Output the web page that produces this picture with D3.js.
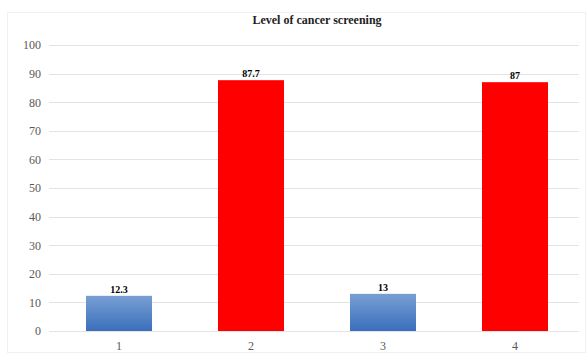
<!DOCTYPE html>
<html>
<head>
<meta charset="utf-8">
<script src="https://cdn.jsdelivr.net/npm/d3@7"></script>
<style>
  body { margin: 0; background: #fff; }
  .axis text { font-family: "Liberation Serif", "DejaVu Serif", serif; font-size: 12px; fill: #595959; }
  .axis path, .axis line { display: none; }
  .grid line { stroke: #e3e3e3; stroke-width: 1; }
</style>
</head>
<body>
<div id="chart"></div>
<script>
var categories = ["1", "2", "3", "4"];
var values = [12.3, 87.7, 13, 87];
var valueLabels = ["12.3", "87.7", "13", "87"];
var yTicks = [0, 10, 20, 30, 40, 50, 60, 70, 80, 90, 100];
var barKinds = ["blue", "red", "blue", "red"];

var W = 588, H = 362;
var margin = {top: 45, right: 7, bottom: 31, left: 53};
var width = W - margin.left - margin.right,
    height = H - margin.top - margin.bottom;

var svg = d3.select("#chart").append("svg")
    .attr("width", W)
    .attr("height", H);

// faint chart border
svg.append("rect")
    .attr("x", 7.5).attr("y", 12.5)
    .attr("width", 578).attr("height", 340)
    .attr("fill", "none")
    .attr("stroke", "#f0f0f0");

var defs = svg.append("defs");
var grad = defs.append("linearGradient")
    .attr("id", "blueGrad")
    .attr("x1", 0).attr("y1", 0).attr("x2", 0).attr("y2", 1);
grad.append("stop").attr("offset", "0%").attr("stop-color", "#789fd3");
grad.append("stop").attr("offset", "100%").attr("stop-color", "#3a6fbc");

var g = svg.append("g")
    .attr("transform", "translate(" + margin.left + "," + margin.top + ")");

var x = d3.scaleBand().domain(categories).range([0, width]).paddingInner(0.5).paddingOuter(0.25);
var y = d3.scaleLinear().domain([0, 100]).range([height, 0]);

// gridlines
g.append("g").attr("class", "grid")
  .selectAll("line")
  .data(yTicks)
  .enter().append("line")
    .attr("x1", -4).attr("x2", width - 2)
    .attr("y1", function(d) { return Math.round(y(d)) + 0.5; })
    .attr("y2", function(d) { return Math.round(y(d)) + 0.5; });

// Y axis
g.append("g").attr("class", "axis")
    .attr("transform", "translate(-12,0)")
    .call(d3.axisLeft(y).tickValues(yTicks).tickSize(0).tickPadding(0));

// X axis
g.append("g").attr("class", "axis")
    .attr("transform", "translate(0," + height + ")")
    .call(d3.axisBottom(x).tickSize(0).tickPadding(10));

// bars
g.selectAll(".bar")
    .data(values)
  .enter().append("rect")
    .attr("class", "bar")
    .attr("x", function(d, i) { return x(categories[i]); })
    .attr("width", x.bandwidth())
    .attr("y", function(d) { return y(d); })
    .attr("height", function(d) { return height - y(d); })
    .attr("fill", function(d, i) { return barKinds[i] == "blue" ? "url(#blueGrad)" : "#ff0000"; });

// value labels
g.selectAll(".lbl")
    .data(values)
  .enter().append("text")
    .attr("class", "lbl")
    .attr("x", function(d, i) { return x(categories[i]) + x.bandwidth() / 2; })
    .attr("y", function(d) { return y(d) - 3; })
    .attr("text-anchor", "middle")
    .style("font-family", "'Liberation Serif', serif")
    .style("font-size", "10px")
    .style("font-weight", "bold")
    .style("fill", "#000")
    .text(function(d, i) { return valueLabels[i]; });

// title
svg.append("text")
    .attr("x", margin.left + width / 2)
    .attr("y", 24)
    .attr("text-anchor", "middle")
    .style("font-family", "'Liberation Serif', serif")
    .style("font-size", "12px")
    .style("font-weight", "bold")
    .style("fill", "#222")
    .text("Level of cancer screening");
</script>
</body>
</html>
